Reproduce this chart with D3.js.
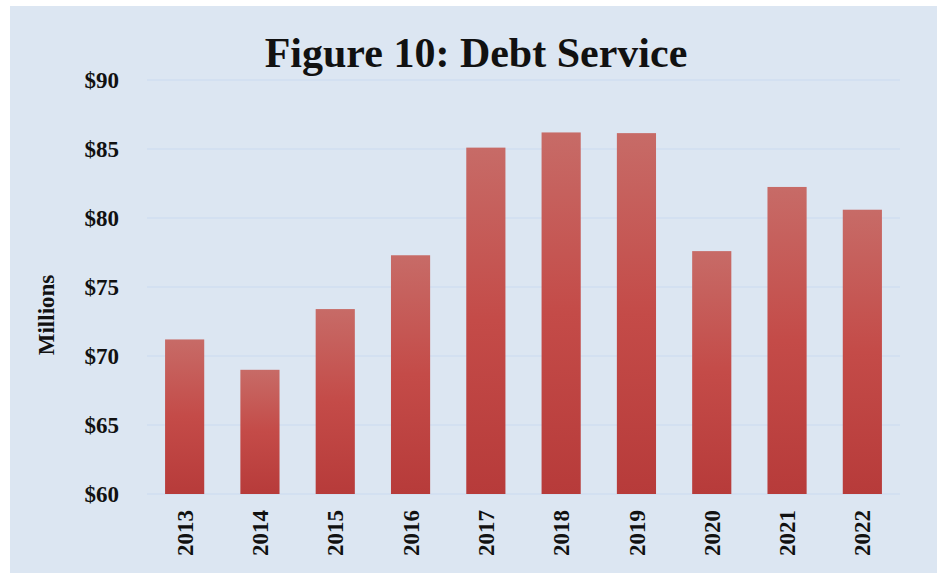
<!DOCTYPE html>
<html>
<head>
<meta charset="utf-8">
<script src="https://cdn.jsdelivr.net/npm/d3@7"></script>
<style>
  html, body { margin: 0; padding: 0; background: #ffffff; }
  .axis text { font-family: "Liberation Serif", "Times New Roman", serif; font-weight: bold; font-size: 23px; fill: #111; }
  .axis path, .axis line { display: none; }
</style>
</head>
<body>
<div id="chart"></div>
<script>
(function() {
  // DATA
  var years = ["2013","2014","2015","2016","2017","2018","2019","2020","2021","2022"];
  var debtService = [71.2, 69.0, 73.4, 77.3, 85.1, 86.2, 86.15, 77.6, 82.25, 80.6];
  var yTicks = [60, 65, 70, 75, 80, 85, 90];

  var W = 938, H = 573;
  var margin = {top: 80, right: 38, bottom: 79, left: 147},
      width = W - margin.left - margin.right,
      height = H - margin.top - margin.bottom;

  var root = d3.select("#chart")
    .append("svg")
    .attr("width", W)
    .attr("height", H);

  // panel background
  root.append("rect")
    .attr("x", 10).attr("y", 6)
    .attr("width", W - 11).attr("height", H - 6)
    .attr("fill", "#dce6f2");

  var defs = root.append("defs");
  var grad = defs.append("linearGradient")
    .attr("id", "barGrad")
    .attr("x1", 0).attr("y1", 0).attr("x2", 0).attr("y2", 1);
  grad.append("stop").attr("offset", "0%").attr("stop-color", "#c76b67");
  grad.append("stop").attr("offset", "50%").attr("stop-color", "#c44b48");
  grad.append("stop").attr("offset", "100%").attr("stop-color", "#b73b3a");

  root.append("text")
    .attr("x", 476).attr("y", 67)
    .attr("text-anchor", "middle")
    .style("font-family", "'Liberation Serif', 'Times New Roman', serif")
    .style("font-weight", "bold")
    .style("font-size", "42px")
    .attr("fill", "#111")
    .text("Figure 10: Debt Service");

  var svg = root.append("g")
    .attr("transform", "translate(" + margin.left + "," + margin.top + ")");

  // SCALES
  var x = d3.scaleBand().domain(years).range([0, width]).paddingInner(0.48).paddingOuter(0.24);
  var y = d3.scaleLinear().domain([60, 90]).range([height, 0]);

  // gridlines
  svg.selectAll(".grid")
    .data(yTicks)
    .enter().append("line")
    .attr("class", "grid")
    .attr("x1", 0).attr("x2", width)
    .attr("y1", function(d) { return y(d); })
    .attr("y2", function(d) { return y(d); })
    .attr("stroke", "#d0def0")
    .attr("stroke-width", 1.5);

  // bars
  svg.selectAll(".bar")
    .data(debtService)
    .enter().append("rect")
    .attr("class", "bar")
    .attr("x", function(d, i) { return x(years[i]); })
    .attr("width", x.bandwidth())
    .attr("y", function(d) { return y(d); })
    .attr("height", function(d) { return height - y(d); })
    .attr("fill", "url(#barGrad)");

  // AXES
  var yAxis = d3.axisLeft(y)
    .tickValues(yTicks)
    .tickSize(0)
    .tickPadding(28)
    .tickFormat(function(d) { return "$" + d; });

  svg.append("g")
    .attr("class", "axis y-axis")
    .call(yAxis);

  var xAxis = d3.axisBottom(x).tickSize(0);

  svg.append("g")
    .attr("class", "axis x-axis")
    .attr("transform", "translate(0," + height + ")")
    .call(xAxis)
    .selectAll("text")
      .attr("transform", "rotate(-90)")
      .attr("text-anchor", "end")
      .attr("x", -16)
      .attr("y", 0)
      .attr("dy", "0.35em");

  root.append("text")
    .attr("transform", "translate(54,315) rotate(-90)")
    .attr("text-anchor", "middle")
    .style("font-family", "'Liberation Serif', 'Times New Roman', serif")
    .style("font-weight", "bold")
    .style("font-size", "23px")
    .attr("fill", "#111")
    .text("Millions");
})();
</script>
</body>
</html>
